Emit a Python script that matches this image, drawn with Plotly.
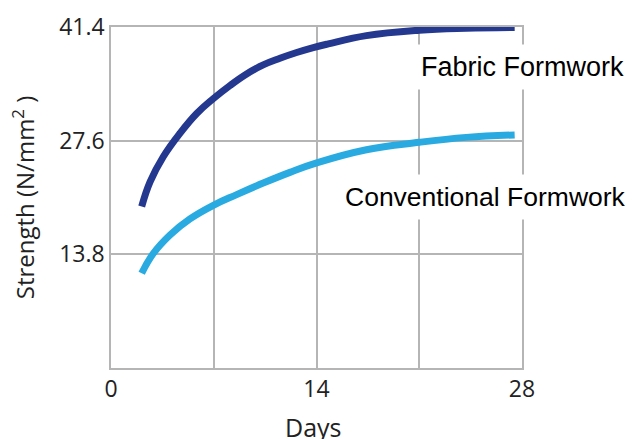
import plotly.graph_objects as go

# Data
days_fabric = [2.09, 2.66, 3.56, 4.70, 5.84, 6.97, 8.11, 9.24, 10.37, 11.51, 12.65, 13.78, 14.80, 17.4, 21.0, 24.2, 27.5]
strength_fabric = [19.6, 22.6, 25.65, 28.5, 30.9, 32.7, 34.3, 35.7, 36.8, 37.6, 38.3, 38.9, 39.35, 40.35, 41.0, 41.25, 41.35]

days_conv = [2.09, 2.88, 4.02, 5.38, 6.97, 8.56, 10.37, 12.19, 14.01, 17.4, 21.0, 24.2, 27.5]
strength_conv = [11.5, 13.9, 16.15, 18.1, 19.75, 21.05, 22.45, 23.75, 24.9, 26.5, 27.4, 28.0, 28.3]

x_tickvals = [0, 7, 14, 21, 28]
x_ticktext = ["0", "", "14", "", "28"]
y_tickvals = [0, 13.8, 27.6, 41.4]
y_ticktext = ["", "13.8", "27.6", "41.4"]

label_fabric = "Fabric Formwork"
label_conv = "Conventional Formwork"
x_title = "Days"
y_title = "Strength (N/mm<sup>2</sup> )"

fig = go.Figure()
fig.add_trace(go.Scatter(x=days_fabric, y=strength_fabric, mode="lines",
                         line=dict(color="#25388f", width=7, shape="spline", smoothing=1.2),
                         name=label_fabric, showlegend=False))
fig.add_trace(go.Scatter(x=days_conv, y=strength_conv, mode="lines",
                         line=dict(color="#29abe2", width=7, shape="spline", smoothing=1.2),
                         name=label_conv, showlegend=False))

grid = "#b5b5b5"
tickfont = dict(family="Open Sans", size=23, color="#222222")

fig.update_xaxes(range=[0, 28], tickvals=x_tickvals, ticktext=x_ticktext,
                 showgrid=True, gridcolor=grid, gridwidth=1.5,
                 showline=True, linecolor=grid, linewidth=1.5, mirror=True,
                 zeroline=False, ticks="", tickfont=tickfont, automargin=False)
fig.update_yaxes(range=[0, 41.4], tickvals=y_tickvals, ticktext=y_ticktext,
                 showgrid=True, gridcolor=grid, gridwidth=1.5,
                 showline=True, linecolor=grid, linewidth=1.5, mirror=True,
                 zeroline=False, ticks="", tickfont=tickfont, automargin=False,
                 title=dict(text=y_title, font=dict(family="Open Sans", size=24, color="#222222"), standoff=18))

fig.add_annotation(x=0.492, y=-0.172, xref="paper", yref="paper", text=x_title, showarrow=False,
                   xanchor="center", yanchor="middle",
                   font=dict(family="Open Sans", size=25, color="#222222"))
fig.add_annotation(x=1.0024, y=0.8827, xref="paper", yref="paper", text=label_fabric, showarrow=False,
                   xanchor="center", yanchor="middle",
                   font=dict(family="Liberation Sans, Arial", size=27, color="#000000"),
                   bgcolor="white", borderpad=7)
fig.add_annotation(x=0.91, y=0.5015, xref="paper", yref="paper", text=label_conv, showarrow=False,
                   xanchor="center", yanchor="middle",
                   font=dict(family="Liberation Sans, Arial", size=26.5, color="#000000"),
                   bgcolor="white", borderpad=7)

fig.update_layout(width=632, height=439, margin=dict(l=111, r=110, t=27, b=71, autoexpand=False),
                  plot_bgcolor="white", paper_bgcolor="white")

fig.write_html("out.html", config={"displayModeBar": False},
               post_script="document.body.style.margin='0';")
